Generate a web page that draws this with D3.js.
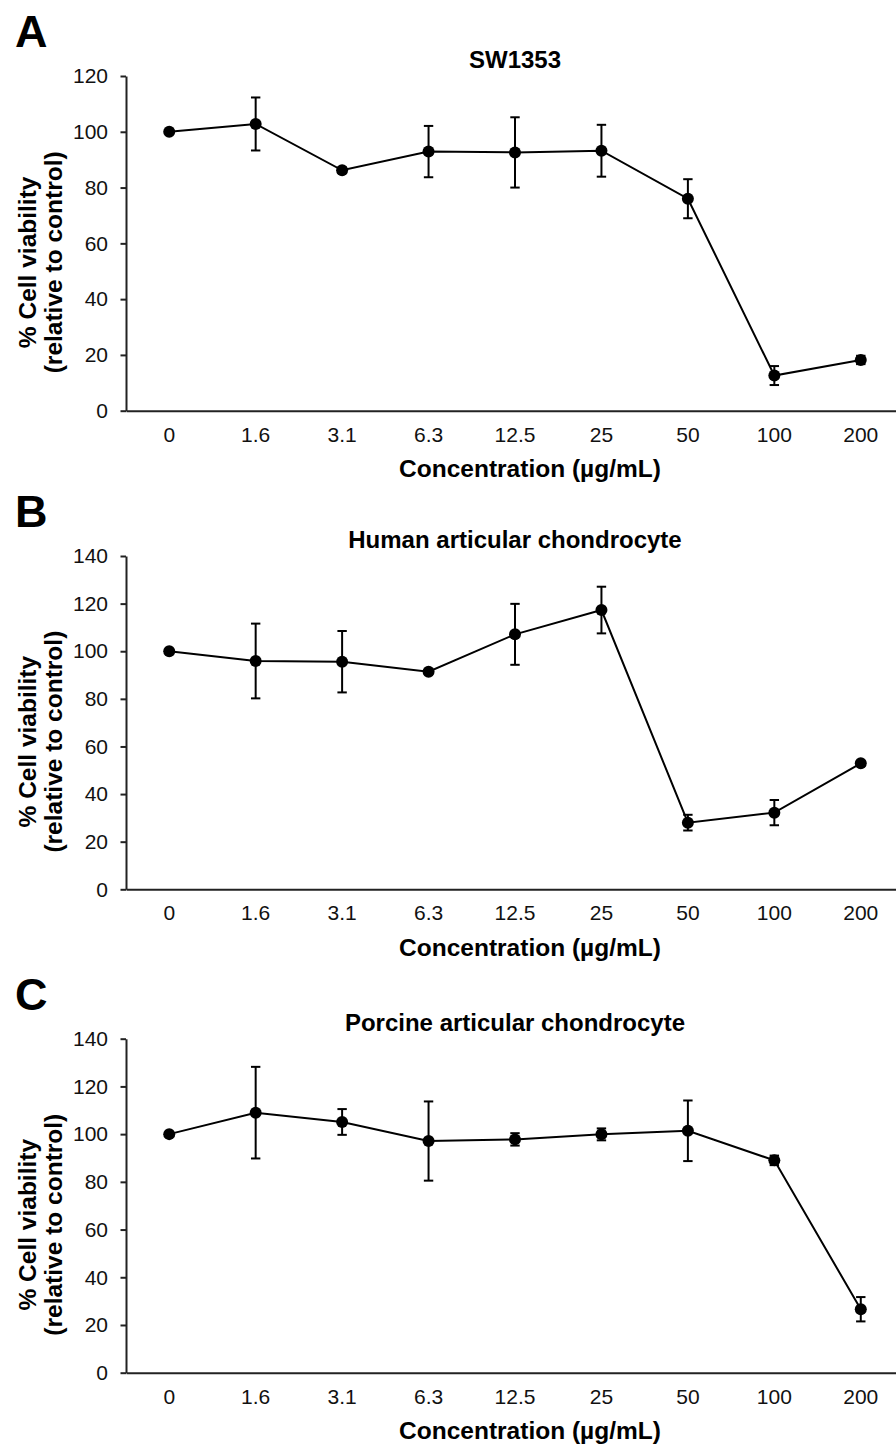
<!DOCTYPE html>
<html>
<head>
<meta charset="utf-8">
<script src="https://cdn.jsdelivr.net/npm/d3@7"></script>
<style>
  body { margin: 0; background: #fff; }
  text { font-family: "Liberation Sans", Arial, sans-serif; }
</style>
</head>
<body>
<div id="chart"></div>
<script>
const categories = ["0", "1.6", "3.1", "6.3", "12.5", "25", "50", "100", "200"];

const swMean = [100, 102.8, 86.2, 92.9, 92.6, 93.2, 76.0, 12.6, 18.2];
const swErr = [0.5, 9.5, 1, 9.2, 12.6, 9.3, 7, 3.4, 1.5];

const humanMean = [100, 95.9, 95.6, 91.4, 107.1, 117.3, 28.0, 32.2, 52.9];
const humanErr = [0.5, 15.7, 12.9, 1, 12.8, 9.8, 3.3, 5.3, 1];

const porcineMean = [100, 109.0, 105.1, 97.1, 97.8, 99.9, 101.4, 89.0, 26.6];
const porcineErr = [0.5, 19.2, 5.4, 16.6, 2.6, 2.5, 12.7, 2, 5.1];

const panelLabels = ["A", "B", "C"];
const panelTitles = ["SW1353", "Human articular chondrocyte", "Porcine articular chondrocyte"];
const yMaxes = [120, 140, 140];
const xTitle = "Concentration (\u00b5g/mL)";
const yTitle = ["% Cell viability", "(relative to control)"];

const width = 896, height = 1446;
const panels = [
  { mean: swMean, err: swErr, top: 76, bottom: 410.7 },
  { mean: humanMean, err: humanErr, top: 556, bottom: 889.3 },
  { mean: porcineMean, err: porcineErr, top: 1038.7, bottom: 1372.7 }
];
const left = 126, right = 904;
const axisColor = "#222";
const tickFont = "21px";

const svg = d3.select("#chart")
  .append("svg")
  .attr("width", width)
  .attr("height", height)
  .style("background-color", "#fff");

const x = d3.scaleBand()
  .domain(categories)
  .range([left, right])
  .padding(0);

panels.forEach((p, i) => {
  const g = svg.append("g");
  const y = d3.scaleLinear().domain([0, yMaxes[i]]).range([p.bottom, p.top]);
  const data = categories.map((c, k) => ({ cat: c, v: p.mean[k], e: p.err[k] }));

  // panel letter
  g.append("text")
    .attr("x", 15)
    .attr("y", p.top - 28.7)
    .style("font-size", "45px")
    .style("font-weight", "bold")
    .text(panelLabels[i]);

  // chart title
  g.append("text")
    .attr("x", (left + right) / 2)
    .attr("y", p.top - 8)
    .attr("text-anchor", "middle")
    .style("font-size", "24px")
    .style("font-weight", "bold")
    .text(panelTitles[i]);

  // y axis
  const yAxis = g.append("g")
    .attr("transform", `translate(${left},0)`)
    .style("color", axisColor)
    .call(d3.axisLeft(y).tickValues(d3.range(0, yMaxes[i] + 1, 20)).tickSize(5.5).tickSizeOuter(0).tickPadding(12.5));
  yAxis.selectAll("path, line").attr("stroke-width", 2);
  yAxis.selectAll("text").attr("font-size", null).style("font-size", tickFont).style("fill", "#111");

  // x axis
  const xAxis = g.append("g")
    .attr("transform", `translate(0,${p.bottom})`)
    .style("color", axisColor)
    .call(d3.axisBottom(x).tickSize(0).tickSizeOuter(0).tickPadding(16));
  xAxis.selectAll("path").attr("stroke-width", 2);
  xAxis.selectAll("text").attr("font-size", null).style("font-size", tickFont).style("fill", "#111");

  // axis titles
  g.append("text")
    .attr("x", 530)
    .attr("y", p.bottom + 66.7)
    .attr("text-anchor", "middle")
    .style("font-size", "24.5px")
    .style("font-weight", "bold")
    .text(xTitle);

  const cy = (p.top + p.bottom) / 2 + 19;
  [36, 61.5].forEach((bx, j) => {
    g.append("text")
      .attr("transform", `translate(${bx},${cy}) rotate(-90)`)
      .attr("text-anchor", "middle")
      .style("font-size", "24.5px")
      .style("font-weight", "bold")
      .text(yTitle[j]);
  });

  const cx = d => x(d.cat) + x.bandwidth() / 2;

  // error bars
  const eb = g.append("g").attr("stroke", "#000").attr("stroke-width", 2);
  eb.selectAll(".stem").data(data).enter().append("line")
    .attr("x1", cx).attr("x2", cx)
    .attr("y1", d => y(d.v + d.e)).attr("y2", d => y(d.v - d.e));
  eb.selectAll(".capTop").data(data).enter().append("line")
    .attr("x1", d => cx(d) - 4.7).attr("x2", d => cx(d) + 4.7)
    .attr("y1", d => y(d.v + d.e)).attr("y2", d => y(d.v + d.e));
  eb.selectAll(".capBot").data(data).enter().append("line")
    .attr("x1", d => cx(d) - 4.7).attr("x2", d => cx(d) + 4.7)
    .attr("y1", d => y(d.v - d.e)).attr("y2", d => y(d.v - d.e));

  // line
  const line = d3.line().x(cx).y(d => y(d.v));
  g.append("path")
    .datum(data)
    .attr("d", line)
    .attr("fill", "none")
    .attr("stroke", "#000")
    .attr("stroke-width", 2);

  // markers
  g.selectAll(".dot").data(data).enter().append("circle")
    .attr("cx", cx)
    .attr("cy", d => y(d.v))
    .attr("r", 6)
    .attr("fill", "#000");
});
</script>
</body>
</html>
